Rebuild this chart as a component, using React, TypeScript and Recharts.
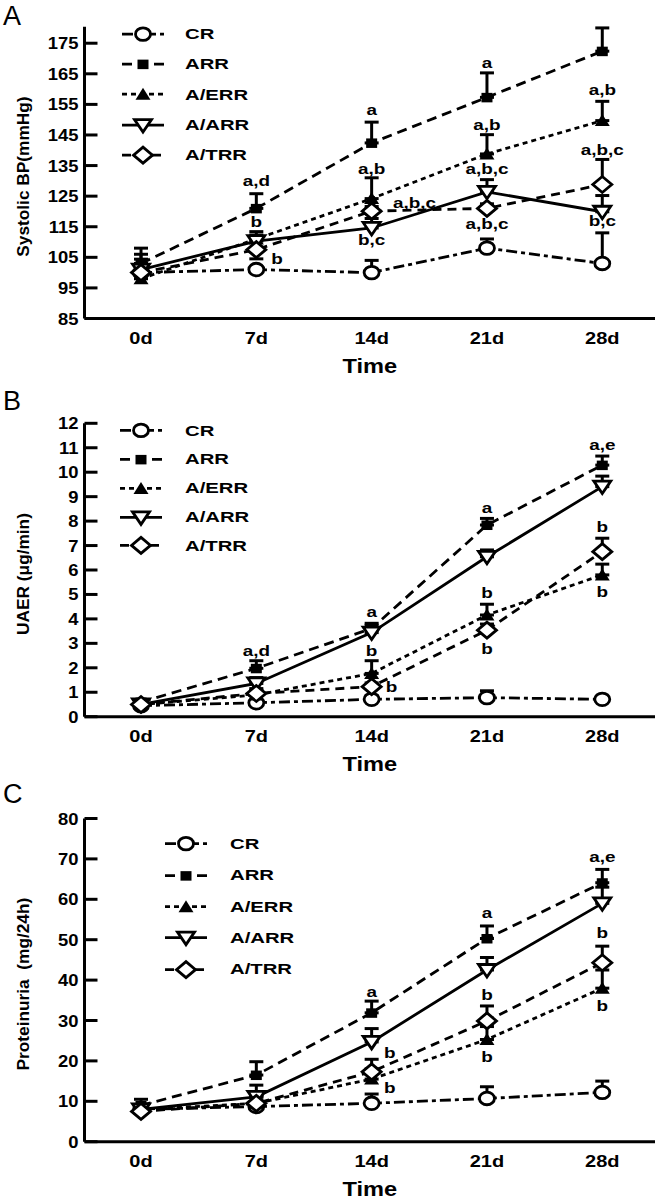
import React from "react";
import { LineChart, Line, XAxis, YAxis, ErrorBar, ReferenceDot, Legend } from "recharts";

const FONT = "'Liberation Sans', Arial, Helvetica, sans-serif";

const days = [0, 7, 14, 21, 28];
const groupNames = ["CR", "ARR", "A/ERR", "A/ARR", "A/TRR"];
const groupKeys = ["cr", "arr", "aerr", "aarr", "atrr"];

// A: systolic BP (mmHg); errors are [down, up]
const bpTicks = [85, 95, 105, 115, 125, 135, 145, 155, 165, 175];
const bpCR = [100, 101, 100, 108, 103];
const bpARR = [103, 121, 142.4, 157.3, 172.4];
const bpAERR = [98, 111, 124.2, 138.8, 149.7];
const bpAARR = [101, 110.3, 114.6, 126.4, 119.9];
const bpATRR = [100, 107.5, 120.1, 121, 128.8];
const bpCRErr = [[0, 1.5], [0, 1], [0, 4], [0, 3], [0, 10]];
const bpARRErr = [[0, 5], [0, 4.8], [0, 6.8], [0, 8], [0, 7.6]];
const bpAERRErr = [[0, 8], [0, 2.4], [0, 6.8], [0, 6.3], [0, 6.3]];
const bpAARRErr = [[0, 3.4], [0, 2], [0, 3.1], [0, 4], [0, 5.3]];
const bpATRRErr = [[0, 1.5], [3, 0], [0, 1.5], [0, 1.5], [0, 8.2]];
const bpNotes = [
  { day: 7, value: 129.8, text: "a,d" },
  { day: 7, value: 116.4, text: "b" },
  { day: 8.25, value: 104.4, text: "b" },
  { day: 14, value: 153.2, text: "a" },
  { day: 14, value: 133.9, text: "a,b" },
  { day: 16.6, value: 122.8, text: "a,b,c" },
  { day: 14, value: 110.8, text: "b,c" },
  { day: 21, value: 168.6, text: "a" },
  { day: 21, value: 148.4, text: "a,b" },
  { day: 21, value: 133.9, text: "a,b,c" },
  { day: 21, value: 116, text: "a,b,c" },
  { day: 28, value: 183.3, text: "a,e" },
  { day: 28, value: 159.8, text: "a,b" },
  { day: 28, value: 140.2, text: "a,b,c" },
  { day: 28, value: 116.8, text: "b,c" },
];

// B: UAER (ug/min)
const uTicks = [0, 1, 2, 3, 4, 5, 6, 7, 8, 9, 10, 11, 12];
const uCR = [0.45, 0.57, 0.71, 0.78, 0.71];
const uARR = [0.6, 1.98, 3.61, 7.84, 10.29];
const uAERR = [0.5, 0.89, 1.77, 4.16, 5.8];
const uAARR = [0.5, 1.36, 3.44, 6.54, 9.41];
const uATRR = [0.5, 0.95, 1.23, 3.54, 6.75];
const uCRErr = [[0, 0.1], [0, 0.1], [0, 0.15], [0, 0.28], [0, 0.05]];
const uARRErr = [[0, 0.1], [0, 0.31], [0, 0.21], [0, 0.27], [0, 0.37]];
const uAERRErr = [[0, 0.1], [0, 0.2], [0, 0.52], [0, 0.44], [0, 0.44]];
const uAARRErr = [[0, 0.1], [0, 0.24], [0, 0.3], [0, 0.28], [0, 0.43]];
const uATRRErr = [[0, 0.1], [0, 0.2], [0, 0.15], [0, 0.25], [0, 0.55]];
const uNotes = [
  { day: 7, value: 2.7, text: "a,d" },
  { day: 14, value: 4.27, text: "a" },
  { day: 14, value: 2.7, text: "b" },
  { day: 15.2, value: 1.23, text: "b" },
  { day: 21, value: 8.52, text: "a" },
  { day: 21, value: 5.04, text: "b" },
  { day: 21, value: 2.75, text: "b" },
  { day: 28, value: 11.11, text: "a,e" },
  { day: 28, value: 7.77, text: "b" },
  { day: 28, value: 5.11, text: "b" },
];

// C: proteinuria (mg/24h)
const pTicks = [0, 10, 20, 30, 40, 50, 60, 70, 80];
const pCR = [8, 8.7, 9.5, 10.7, 12.2];
const pARR = [9, 16.5, 31.9, 50.3, 64.1];
const pAERR = [8, 9.5, 15.5, 25.3, 38];
const pAARR = [8, 11.1, 24.7, 42.5, 59];
const pATRR = [7.5, 9.5, 17.3, 29.9, 44.3];
const pCRErr = [[0, 1], [0, 1], [0, 2.3], [0, 2.9], [0, 2.8]];
const pARRErr = [[0, 1.5], [0, 3.3], [0, 2.9], [0, 3.1], [0, 3.3]];
const pAERRErr = [[0, 1], [0, 1.5], [0, 2.5], [0, 3.2], [0, 4.5]];
const pAARRErr = [[0, 1], [0, 2.9], [0, 3.3], [0, 3.1], [0, 4]];
const pATRRErr = [[0, 1], [0, 2], [0, 3.1], [0, 3.7], [0, 4.1]];
const pNotes = [
  { day: 14, value: 37.1, text: "a" },
  { day: 15.1, value: 22, text: "b" },
  { day: 15.1, value: 13.4, text: "b" },
  { day: 21, value: 56.7, text: "a" },
  { day: 21, value: 36.3, text: "b" },
  { day: 21, value: 20.9, text: "b" },
  { day: 28, value: 70.5, text: "a,e" },
  { day: 28, value: 51.6, text: "b" },
  { day: 28, value: 33.6, text: "b" },
];

const SERIES = [
  { dash: "11 4 4 4", shape: "circle" },
  { dash: "10 6", shape: "square" },
  { dash: "5 4", shape: "triUp" },
  { dash: undefined, shape: "triDown" },
  { dash: "9 6", shape: "diamond" },
];

function buildRows(vals: number[][], errs: number[][][]) {
  return days.map((d, i) => {
    const row: any = { day: d };
    groupKeys.forEach((k, j) => {
      row[k] = vals[j][i];
      row[k + "_e"] = errs[j][i];
    });
    return row;
  });
}

function WText({ x, y, text, size, sx = 1.3, anchor = "middle", weight = "bold" }: any) {
  return (
    <text
      transform={`translate(${x},${y}) scale(${sx},1)`}
      textAnchor={anchor}
      fontSize={size}
      fontWeight={weight}
      fontFamily={FONT}
      fill="#000"
    >
      {text}
    </text>
  );
}

function Marker({ shape, cx, cy }: any) {
  const st = { stroke: "#000", strokeWidth: 2.8 };
  if (cx == null || cy == null) return <g />;
  switch (shape) {
    case "circle":
      return <ellipse cx={cx} cy={cy} rx={7.5} ry={6.3} fill="#fff" {...st} />;
    case "square":
      return <rect x={cx - 5.5} y={cy - 4.5} width={11} height={9.5} fill="#000" />;
    case "triUp":
      return <polygon points={`${cx},${cy - 6.5} ${cx + 7.5},${cy + 5.5} ${cx - 7.5},${cy + 5.5}`} fill="#000" />;
    case "triDown":
      return <polygon points={`${cx - 8.5},${cy - 5.5} ${cx + 8.5},${cy - 5.5} ${cx},${cy + 7}`} fill="#fff" {...st} />;
    default:
      return <polygon points={`${cx},${cy - 8} ${cx + 9.5},${cy} ${cx},${cy + 8} ${cx - 9.5},${cy}`} fill="#fff" {...st} />;
  }
}

const XTick = (props: any) => {
  const { x, y, payload } = props;
  return <WText x={x} y={y + 25} text={`${payload.value}d`} size={16} sx={1.25} />;
};

const YTick = (props: any) => {
  const { x, y, payload } = props;
  const ax = x + 6;
  return (
    <g>
      <line x1={ax} x2={ax + 13} y1={y} y2={y} stroke="#000" strokeWidth={3} />
      <WText x={x} y={y + 6} text={payload.value} size={16} sx={1.15} anchor="end" />
    </g>
  );
};

function LegendBox({ step, textOff }: any) {
  return (
    <div style={{ fontFamily: FONT }}>
      {SERIES.map((s, i) => (
        <div key={i} style={{ height: step, display: "flex", alignItems: "center" }}>
          <svg width={textOff} height={step} style={{ display: "block" }}>
            <line x1={0} x2={42} y1={step / 2} y2={step / 2} stroke="#000" strokeWidth={2.8} strokeDasharray={s.dash} />
            <Marker shape={s.shape} cx={21} cy={step / 2} />
          </svg>
          <span
            style={{
              fontWeight: "bold",
              fontSize: 14.5,
              display: "inline-block",
              transform: "scaleX(1.4)",
              transformOrigin: "left center",
              whiteSpace: "nowrap",
            }}
          >
            {groupNames[i]}
          </span>
        </div>
      ))}
    </div>
  );
}

function Panel({ top, height, plotTop, axisY, yDomain, yTicks, yLabel, rows, notes, legend }: any) {
  const xAxisH = 30;
  return (
    <div style={{ position: "absolute", left: 0, top, width: 664, height }}>
      <LineChart
        width={664}
        height={height}
        data={rows}
        margin={{ top: plotTop, right: 9, left: 24.5, bottom: height - axisY - xAxisH }}
      >
        <XAxis
          type="number"
          dataKey="day"
          domain={[-3.43, 31.2]}
          ticks={days}
          allowDataOverflow
          height={xAxisH}
          tickSize={0}
          tickMargin={0}
          tickLine={false}
          axisLine={{ stroke: "#000", strokeWidth: 3 }}
          tick={<XTick />}
          label={(p: any) => {
            const vb = p.viewBox || {};
            return (
              <WText x={vb.x + vb.width / 2} y={vb.y + 54} text="Time" size={20} sx={1.18} />
            );
          }}
        />
        <YAxis
          type="number"
          domain={yDomain}
          ticks={yTicks}
          allowDataOverflow
          width={60}
          tickSize={0}
          tickMargin={6}
          tickLine={false}
          axisLine={{ stroke: "#000", strokeWidth: 3 }}
          tick={<YTick />}
          label={(p: any) => {
            const vb = p.viewBox || {};
            const cy = vb.y + vb.height / 2 + 4;
            return (
              <text
                transform={`translate(29,${cy}) rotate(-90) scale(1.08,1)`}
                textAnchor="middle"
                fontSize={16}
                fontWeight="bold"
                fontFamily={FONT}
                fill="#000"
                style={{ whiteSpace: "pre" }}
              >
                {yLabel}
              </text>
            );
          }}
        />
        <Legend
          layout="vertical"
          align="center"
          verticalAlign="middle"
          wrapperStyle={{ left: legend.x, top: legend.y, width: 200, height: legend.step * 5 }}
          content={() => <LegendBox step={legend.step} textOff={legend.textOff} />}
        />
        {SERIES.map((s, j) => (
          <Line
            key={groupKeys[j]}
            name={groupNames[j]}
            type="linear"
            dataKey={groupKeys[j]}
            stroke="#000"
            strokeWidth={2.8}
            strokeDasharray={s.dash}
            activeDot={false}
            isAnimationActive={false}
            dot={(p: any) => <Marker key={`${groupKeys[j]}-${p.index}`} shape={s.shape} cx={p.cx} cy={p.cy} />}
          >
            <ErrorBar
              dataKey={groupKeys[j] + "_e"}
              direction="y"
              width={7}
              stroke="#000"
              strokeWidth={3}
              isAnimationActive={false}
            />
          </Line>
        ))}
        {notes.map((n: any, i: number) => (
          <ReferenceDot
            key={i}
            x={n.day}
            y={n.value}
            r={0}
            shape={(p: any) => <WText x={p.cx} y={p.cy + 5} text={n.text} size={14} sx={1.35} />}
          />
        ))}
      </LineChart>
    </div>
  );
}

export default function App() {
  const rowsA = buildRows([bpCR, bpARR, bpAERR, bpAARR, bpATRR], [bpCRErr, bpARRErr, bpAERRErr, bpAARRErr, bpATRRErr]);
  const rowsB = buildRows([uCR, uARR, uAERR, uAARR, uATRR], [uCRErr, uARRErr, uAERRErr, uAARRErr, uATRRErr]);
  const rowsC = buildRows([pCR, pARR, pAERR, pAARR, pATRR], [pCRErr, pARRErr, pAERRErr, pAARRErr, pATRRErr]);

  return (
    <div style={{ position: "absolute", left: 0, top: 0, width: 664, height: 1200, background: "#fff" }}>
      <Panel
        top={0}
        height={390}
        plotTop={26.7}
        axisY={318.5}
        yDomain={[85, 180.4]}
        yTicks={bpTicks}
        yLabel="Systolic BP(mmHg)"
        rows={rowsA}
        notes={bpNotes}
        legend={{ x: 122, y: 18.9, step: 30.25, textOff: 63 }}
      />
      <Panel
        top={390}
        height={390}
        plotTop={33.3}
        axisY={326.7}
        yDomain={[0, 12]}
        yTicks={uTicks}
        yLabel="UAER (μg/min)"
        rows={rowsB}
        notes={uNotes}
        legend={{ x: 120, y: 26.3, step: 28.8, textOff: 65 }}
      />
      <Panel
        top={780}
        height={420}
        plotTop={38.5}
        axisY={361.7}
        yDomain={[0, 80]}
        yTicks={pTicks}
        yLabel="Proteinuria  (mg/24h)"
        rows={rowsC}
        notes={pNotes}
        legend={{ x: 165, y: 48.35, step: 31.3, textOff: 65 }}
      />
      <svg width={664} height={1200} style={{ position: "absolute", left: 0, top: 0, pointerEvents: "none" }}>
        <text x={3} y={25} fontSize={27} fontFamily={FONT} fill="#000">A</text>
        <text x={3} y={410} fontSize={27} fontFamily={FONT} fill="#000">B</text>
        <text x={3} y={803} fontSize={27} fontFamily={FONT} fill="#000">C</text>
      </svg>
    </div>
  );
}
